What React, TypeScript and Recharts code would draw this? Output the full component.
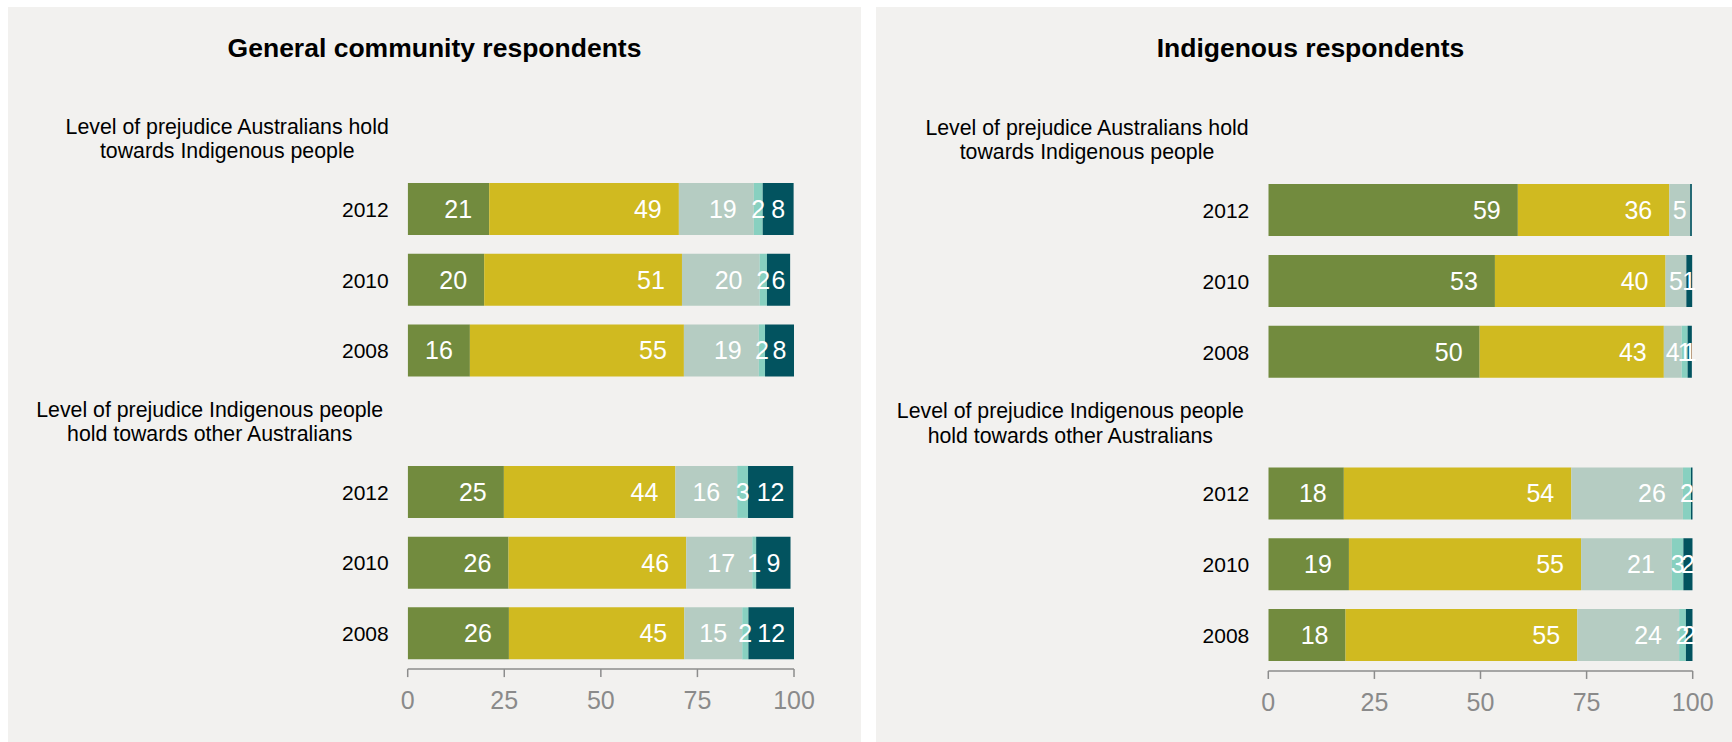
import React from "react";
import { BarChart, Bar, XAxis, YAxis, LabelList } from "recharts";

// ---------- data ----------
const years = ["2012", "2010", "2008"];
const levelNames = ["High", "Moderate", "Low", "None", "Unsure"];
const levelColors = ["#728B3E", "#D0BA20", "#B5CCC2", "#88D0C0", "#02535F"];
const panelTitles = ["General community respondents", "Indigenous respondents"];
const sectionTitles = [
  ["Level of prejudice Australians hold", "towards Indigenous people"],
  ["Level of prejudice Indigenous people", "hold towards other Australians"],
];
const xTicks = [0, 25, 50, 75, 100];

// rows: 2012, 2010, 2008 ; columns: levels in levelNames order
const generalAusToIndigenous = [
  [21.1, 49.1, 19.4, 2.3, 8.0],
  [19.8, 51.2, 20.1, 1.9, 6.0],
  [16.1, 55.4, 19.4, 1.6, 7.6],
];
const generalIndigenousToAus = [
  [24.9, 44.4, 16.0, 2.8, 11.7],
  [26.1, 46.0, 17.1, 1.0, 8.9],
  [26.2, 45.4, 15.0, 1.6, 11.8],
];
const indigenousAusToIndigenous = [
  [58.8, 35.7, 4.9, 0, 0.4],
  [53.4, 40.2, 4.9, 0, 1.4],
  [49.8, 43.4, 4.2, 1.4, 1.0],
];
const indigenousIndigenousToAus = [
  [17.8, 53.6, 26.3, 1.9, 0.4],
  [19.0, 54.7, 21.4, 2.7, 2.3],
  [18.2, 54.6, 24.0, 1.6, 1.6],
];

// ---------- layout / style ----------
const FONT = "'Liberation Sans', Arial, Helvetica, sans-serif";
const PANEL_TOP = 7;
const PANEL_H = 735;
const X_AXIS_H = 60;
const BG = "#F2F1EF";
const AXIS_GREY = "#8C8C8C";

type PanelCfg = {
  title: string;
  sections: number[][][];
  left: number;
  width: number;
  axisW: number;
  marginRight: number;
  plotTop: number;
  plotH: number;
  headerOffsets: number[];
};

const panels: PanelCfg[] = [
  {
    title: panelTitles[0],
    sections: [generalAusToIndigenous, generalIndigenousToAus],
    left: 8,
    width: 853,
    axisW: 399.7,
    marginRight: 67,
    plotTop: 96.2,
    plotH: 565.9,
    headerOffsets: [180.5, 198],
  },
  {
    title: panelTitles[1],
    sections: [indigenousAusToIndigenous, indigenousIndigenousToAus],
    left: 876,
    width: 869,
    axisW: 392.3,
    marginRight: 52.3,
    plotTop: 97.25,
    plotH: 566.7,
    headerOffsets: [181.3, 198],
  },
];

function buildRows(sections: number[][][]) {
  const rows: any[] = [];
  sections.forEach((sec, si) => {
    rows.push({ id: `h${si}`, header: si });
    sec.forEach((vals, yi) => {
      const row: any = { id: `r${si}-${years[yi]}`, year: years[yi] };
      vals.forEach((v, k) => {
        row[`s${k}`] = v;
      });
      rows.push(row);
    });
  });
  return rows;
}

const BarLabel = (props: any) => {
  const vb = props.viewBox || {};
  const x = Number(vb.x ?? props.x);
  const y = Number(vb.y ?? props.y);
  const w = Number(vb.width ?? props.width);
  const h = Number(vb.height ?? props.height);
  let v = props.value;
  if (Array.isArray(v)) v = v[1] - v[0];
  if (v == null || isNaN(v)) return null;
  const r = Math.round(v);
  if (r === 0) return null;
  const cx = x + w - Math.min(w / 2, 31);
  return (
    <text
      x={cx}
      y={y + h / 2 + 9}
      textAnchor="middle"
      fill="#FFFFFF"
      fontSize={25}
      fontFamily={FONT}
    >
      {r}
    </text>
  );
};

const XTick = (props: any) => {
  const { x, y, payload } = props;
  return (
    <text
      x={x}
      y={y + 30}
      textAnchor="middle"
      fill="#8A8A8A"
      fontSize={25}
      fontFamily={FONT}
    >
      {payload.value}
    </text>
  );
};

function Panel({ cfg }: { cfg: PanelCfg }) {
  const rows = buildRows(cfg.sections);
  const marginBottom = PANEL_H - cfg.plotTop - cfg.plotH - X_AXIS_H;

  const YTick = (props: any) => {
    const { y, payload } = props;
    const row = rows.find((r) => r.id === payload.value);
    if (!row) return null;
    if (row.header !== undefined) {
      const cx = cfg.axisW - cfg.headerOffsets[row.header];
      const lines = sectionTitles[row.header];
      return (
        <g>
          <text x={cx} y={y - 4.75} textAnchor="middle" fill="#000" fontSize={21.3} fontFamily={FONT}>
            {lines[0]}
          </text>
          <text x={cx} y={y + 19.75} textAnchor="middle" fill="#000" fontSize={21.3} fontFamily={FONT}>
            {lines[1]}
          </text>
        </g>
      );
    }
    return (
      <text x={cfg.axisW - 19} y={y + 7.5} textAnchor="end" fill="#000" fontSize={21} fontFamily={FONT}>
        {row.year}
      </text>
    );
  };

  return (
    <div
      style={{
        position: "absolute",
        left: cfg.left,
        top: PANEL_TOP,
        width: cfg.width,
        height: PANEL_H,
        background: BG,
      }}
    >
      <svg
        width={cfg.width}
        height={80}
        style={{ position: "absolute", left: 0, top: 0 }}
      >
        <text
          x={cfg.width / 2}
          y={49.7}
          textAnchor="middle"
          fontSize={26.5}
          fontWeight="bold"
          fill="#000"
          fontFamily={FONT}
        >
          {cfg.title}
        </text>
      </svg>
      <div style={{ position: "absolute", left: 0, top: 0 }}>
        <BarChart
          width={cfg.width}
          height={PANEL_H}
          data={rows}
          layout="vertical"
          margin={{ top: cfg.plotTop, right: cfg.marginRight, bottom: marginBottom, left: 0 }}
        >
          <XAxis
            type="number"
            domain={[0, 100]}
            ticks={xTicks}
            interval={0}
            allowDataOverflow
            height={X_AXIS_H}
            tickSize={8}
            tickMargin={2}
            axisLine={{ stroke: AXIS_GREY, strokeWidth: 1.5 }}
            tickLine={{ stroke: AXIS_GREY, strokeWidth: 1.5 }}
            tick={<XTick />}
          />
          <YAxis
            type="category"
            dataKey="id"
            width={cfg.axisW}
            axisLine={false}
            tickLine={false}
            interval={0}
            tick={<YTick />}
          />
          {levelNames.map((name, k) => (
            <Bar
              key={name}
              name={name}
              dataKey={`s${k}`}
              stackId="a"
              fill={levelColors[k]}
              barSize={52}
              isAnimationActive={false}
            >
              <LabelList dataKey={`s${k}`} content={<BarLabel />} />
            </Bar>
          ))}
        </BarChart>
      </div>
    </div>
  );
}

export default function App() {
  return (
    <div
      style={{
        position: "absolute",
        left: 0,
        top: 0,
        width: 1732,
        height: 742,
        overflow: "hidden",
        background: "#FFFFFF",
      }}
    >
      {panels.map((p, i) => (
        <Panel key={i} cfg={p} />
      ))}
    </div>
  );
}
